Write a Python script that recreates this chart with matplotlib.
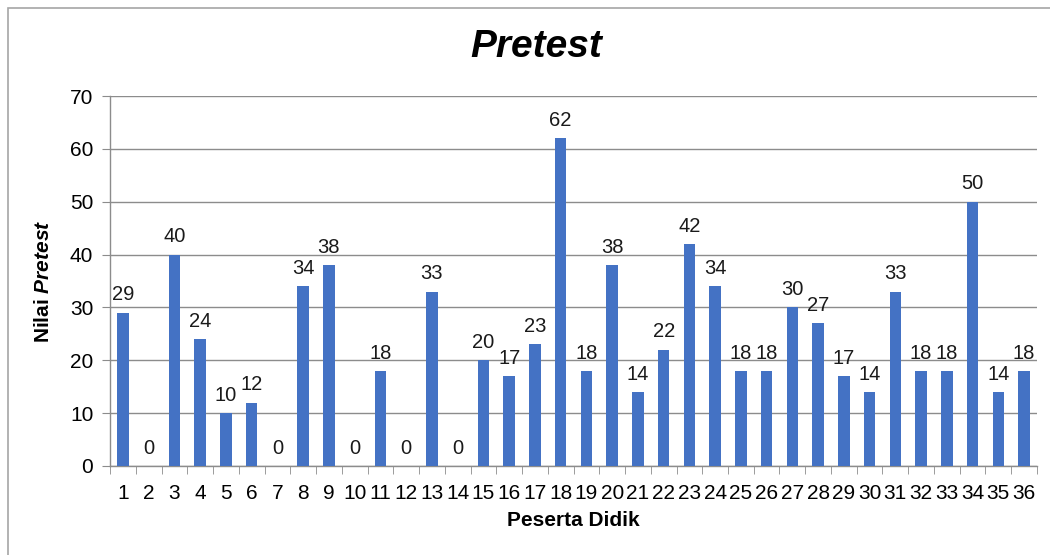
import matplotlib
matplotlib.use("Agg")
import matplotlib.pyplot as plt
from matplotlib.patches import Rectangle
from matplotlib.ticker import MultipleLocator, FixedLocator

plt.rcParams['font.family'] = ['Liberation Sans', 'DejaVu Sans']
plt.rcParams['mathtext.fontset'] = 'custom'
plt.rcParams['mathtext.it'] = 'Liberation Sans:bold:italic'
plt.rcParams['mathtext.rm'] = 'Liberation Sans:bold'

# data
peserta = list(range(1, 37))
nilai = [29, 0, 40, 24, 10, 12, 0, 34, 38, 0, 18, 0, 33, 0, 20, 17, 23, 62,
         18, 38, 14, 22, 42, 34, 18, 18, 30, 27, 17, 14, 33, 18, 18, 50, 14, 18]

fig = plt.figure(figsize=(10.5, 5.55), dpi=100)
ax = fig.add_axes([0.1048, 0.1604, 0.8828, 0.6666])

# outer frame of the chart area
fig.patches.append(Rectangle((8 / 1050, -0.1), 1.2, 1 - 8 / 555 + 0.1,
                             transform=fig.transFigure, fill=False,
                             edgecolor='#a6a6a6', linewidth=1.2))

bars = ax.bar(peserta, nilai, width=0.44, color='#4472C4', zorder=3)
for b, v in zip(bars, nilai):
    ax.annotate(str(v), (b.get_x() + b.get_width() / 2, v),
                xytext=(0, 6), textcoords='offset points',
                ha='center', va='bottom', fontsize=14.5, color='#1a1a1a')

ax.set_xlim(0.5, 36.5)
ax.set_ylim(0, 70)
ax.yaxis.set_major_locator(MultipleLocator(10))
ax.set_xticks(peserta)
ax.set_xticklabels([str(p) for p in peserta])
ax.xaxis.set_minor_locator(FixedLocator([i + 0.5 for i in range(0, 37)]))
ax.tick_params(axis='x', which='major', length=0, pad=13, labelsize=15)
ax.tick_params(axis='x', which='minor', length=6, color='#8c8c8c', direction='out')
ax.tick_params(axis='y', length=6, color='#8c8c8c', labelsize=15, pad=6)

ax.grid(axis='y', color='#8c8c8c', linewidth=1, zorder=0)
for s in ['top', 'right']:
    ax.spines[s].set_visible(False)
for s in ['left', 'bottom']:
    ax.spines[s].set_color('#8c8c8c')
    ax.spines[s].set_linewidth(1)

ax.set_xlabel('Peserta Didik', fontsize=15, fontweight='bold', labelpad=6)
ax.set_ylabel(r'Nilai $\mathit{Pretest}$', fontsize=15, fontweight='bold', labelpad=12)
fig.text(0.511, 0.915, 'Pretest', ha='center', va='center', fontsize=28,
         fontweight='bold', fontstyle='italic')

fig.savefig('out.png', dpi=100)
